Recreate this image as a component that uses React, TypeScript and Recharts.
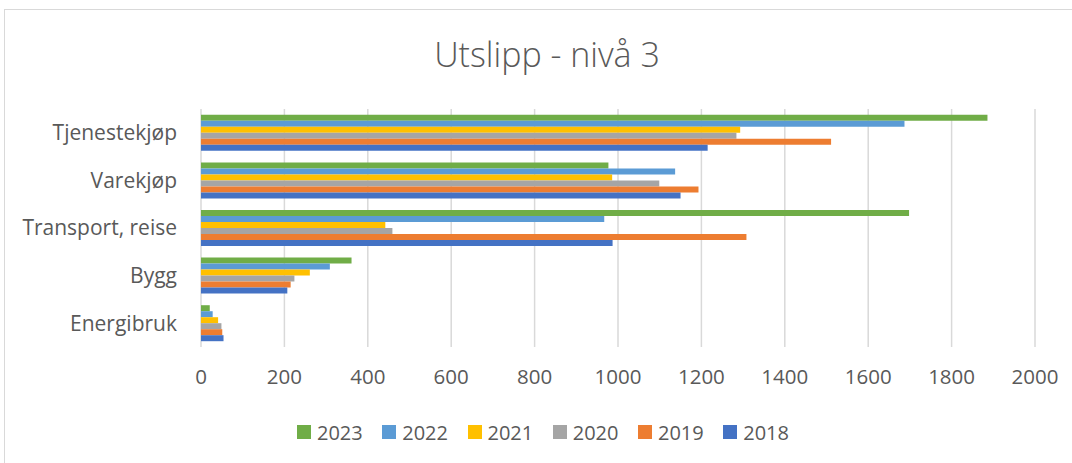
import React from "react";
import { BarChart, Bar, XAxis, YAxis, CartesianGrid, Legend } from "recharts";

const categories = ["Tjenestekjøp", "Varekjøp", "Transport, reise", "Bygg", "Energibruk"];
const years = ["2023", "2022", "2021", "2020", "2019", "2018"];
const v2023 = [1886, 977, 1698, 361, 21];
const v2022 = [1687, 1137, 967, 309, 28];
const v2021 = [1293, 986, 442, 261, 41];
const v2020 = [1284, 1099, 459, 224, 49];
const v2019 = [1511, 1193, 1308, 215, 51];
const v2018 = [1215, 1150, 987, 207, 54];
const xTicks = [0, 200, 400, 600, 800, 1000, 1200, 1400, 1600, 1800, 2000];
const colors = ["#70AD47", "#5B9BD5", "#FFC000", "#A5A5A5", "#ED7D31", "#4472C4"];

const seriesValues = [v2023, v2022, v2021, v2020, v2019, v2018];
const data = categories.map((name, i) => {
  const row: Record<string, any> = { name };
  years.forEach((y, k) => {
    row[y] = seriesValues[k][i];
  });
  return row;
});

const FONT = "'Open Sans', 'Liberation Sans', sans-serif";

const LegendContent = (props: any) => {
  const payload = [...(props.payload || [])].sort(
    (a: any, b: any) => years.indexOf(String(a.value)) - years.indexOf(String(b.value))
  );
  return (
    <div style={{ display: "flex", justifyContent: "center", alignItems: "center", height: 30, fontFamily: FONT, fontSize: 20, color: "#595959" }}>
      {payload.map((p: any, i: number) => (
        <div key={i} style={{ display: "flex", alignItems: "center", marginRight: i === payload.length - 1 ? 0 : 19.5 }}>
          <span style={{ display: "inline-block", width: 14, height: 14, background: p.color, marginRight: 6 }} />
          <span>{p.value}</span>
        </div>
      ))}
    </div>
  );
};

export default function App() {
  return (
    <div style={{ position: "fixed", left: 0, top: 0, width: 1072, height: 463, overflow: "hidden", background: "#fff" }}>
      <div style={{ position: "absolute", left: 4, top: 9, width: 1084, height: 470, border: "1px solid #d9d9d9", background: "#fff" }}>
        <div style={{ position: "absolute", left: 0, top: 21, width: 1084, textAlign: "center", fontFamily: FONT, fontWeight: 300, fontSize: 34, color: "#595959" }}>
          Utslipp - nivå 3
        </div>
        <BarChart
          width={1084}
          height={454}
          data={data}
          layout="vertical"
          margin={{ top: 99, right: 54, left: 0, bottom: 87 }}
          barCategoryGap="12.2%"
          barGap={0}
        >
          <CartesianGrid horizontal={false} stroke="#d9d9d9" strokeWidth={1.5} />
          <XAxis
            type="number"
            domain={[0, 2000]}
            ticks={xTicks}
            axisLine={false}
            tickLine={false}
            tickMargin={16}
            height={30}
            interval={0}
            tick={{ fill: "#595959", fontSize: 20.5, fontFamily: FONT }}
          />
          <YAxis
            type="category"
            dataKey="name"
            axisLine={false}
            tickLine={false}
            tickMargin={18}
            width={196}
            interval={0}
            tick={{ fill: "#595959", fontSize: 21, fontFamily: FONT }}
          />
          <Legend
            layout="horizontal"
            align="center"
            verticalAlign="middle"
            wrapperStyle={{ top: 407, left: -4, width: 1084 }}
            content={<LegendContent />}
          />
          {years.map((y, k) => (
            <Bar key={y} dataKey={y} fill={colors[k]} isAnimationActive={false} />
          ))}
        </BarChart>
      </div>
    </div>
  );
}
